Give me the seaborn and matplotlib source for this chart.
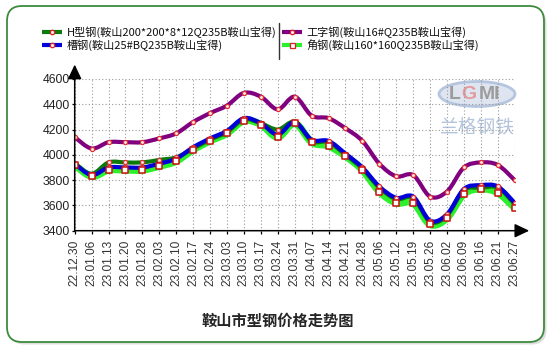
import numpy as np
import pandas as pd
import matplotlib
matplotlib.use("Agg")
import matplotlib.pyplot as plt
import seaborn as sns
from matplotlib.path import Path
from matplotlib.patches import PathPatch, FancyBboxPatch, Ellipse
from matplotlib.lines import Line2D

dates = ["22.12.30", "23.01.06", "23.01.13", "23.01.20", "23.01.28", "23.02.03",
         "23.02.10", "23.02.17", "23.02.24", "23.03.03", "23.03.10", "23.03.17",
         "23.03.24", "23.03.31", "23.04.07", "23.04.14", "23.04.21", "23.04.28",
         "23.05.06", "23.05.12", "23.05.19", "23.05.26", "23.06.02", "23.06.09",
         "23.06.16", "23.06.21", "23.06.27"]
h_beam = [3930, 3850, 3940, 3940, 3940, 3960, 3980, 4050, 4120, 4180, 4280, 4250, 4200,
          4260, 4110, 4100, 4000, 3890, 3740, 3650, 3660, 3470, 3520, 3720, 3740, 3740, 3610]
channel = [3930, 3840, 3900, 3900, 3900, 3930, 3970, 4060, 4130, 4190, 4290, 4250, 4160,
           4260, 4120, 4110, 4010, 3900, 3750, 3660, 3670, 3480, 3530, 3730, 3760, 3750, 3620]
i_beam = [4140, 4050, 4100, 4100, 4100, 4130, 4170, 4260, 4330, 4390, 4490, 4460, 4360,
          4460, 4310, 4290, 4210, 4110, 3930, 3830, 3840, 3670, 3710, 3900, 3940, 3920, 3800]
angle = [3920, 3830, 3880, 3880, 3880, 3910, 3950, 4040, 4110, 4170, 4270, 4240, 4140,
         4250, 4100, 4070, 3990, 3880, 3710, 3620, 3620, 3450, 3500, 3690, 3730, 3700, 3580]
series_names = ["H型钢(鞍山200*200*8*12Q235B鞍山宝得)", "槽钢(鞍山25#BQ235B鞍山宝得)",
                "工字钢(鞍山16#Q235B鞍山宝得)", "角钢(鞍山160*160Q235B鞍山宝得)"]
y_ticks = [3400, 3600, 3800, 4000, 4200, 4400, 4600]
title = "鞍山市型钢价格走势图"

sns.set_style("white")
plt.rcParams["font.family"] = ["Noto Sans CJK SC", "DejaVu Sans"]

W, H = 551, 350
fig = plt.figure(figsize=(W / 100, H / 100), dpi=100)
fig.patch.set_facecolor("white")

def fx(px):
    return px / W

def fy(py):
    return 1 - py / H

# frame with shadow
shadow = FancyBboxPatch((0.095, 0.055), 5.37, 3.36, boxstyle="round,pad=0,rounding_size=0.15",
                        transform=fig.dpi_scale_trans, fc="#c8c8c8", ec="none", alpha=0.6, zorder=-3)
fig.add_artist(shadow)
frame = FancyBboxPatch((0.07, 0.08), 5.37, 3.36, boxstyle="round,pad=0,rounding_size=0.15",
                       transform=fig.dpi_scale_trans, fc="white", ec="#3d8b3d", lw=1.3, zorder=-2)
fig.add_artist(frame)

# watermark logo (behind plot)
ell = Ellipse((fx(477), fy(94)), 76 / W, 25 / H, transform=fig.transFigure,
              fc="#dbe3f0", ec="#b0c1dc", lw=2, zorder=-1, alpha=0.9)
fig.add_artist(ell)
fig.text(fx(455), fy(95), "L", color="#9c9c9c", fontsize=14, fontweight="bold",
         ha="center", va="center", family="Liberation Sans", zorder=-1)
fig.text(fx(469), fy(95), "G", color="#e49a9a", fontsize=14, fontweight="bold",
         ha="center", va="center", family="Liberation Sans", zorder=-1)
fig.text(fx(490), fy(95), "MI", color="#9c9c9c", fontsize=14, fontweight="bold",
         ha="center", va="center", family="Liberation Sans", zorder=-1)
fig.text(fx(477), fy(127), "兰格钢铁", color="#b4c4dc", fontsize=13.5,
         ha="center", va="center", zorder=-1)

x0, x1, ytop, ybot = 74.7, 514.7, 79.0, 230.7
ax = fig.add_axes([fx(x0), fy(ybot), (x1 - x0) / W, (ybot - ytop) / H])
ax.set_facecolor("none")
xs = np.arange(len(dates))

def smooth_path(x, y):
    pts = np.column_stack([x, y]).astype(float)
    n = len(pts)
    verts = [pts[0]]
    codes = [Path.MOVETO]
    for i in range(n - 1):
        p0 = pts[i - 1] if i > 0 else pts[i]
        p1 = pts[i]
        p2 = pts[i + 1]
        p3 = pts[i + 2] if i + 2 < n else pts[i + 1]
        c1 = p1 + (p2 - p0) / 6.0
        c2 = p2 - (p3 - p1) / 6.0
        verts += [c1, c2, p2]
        codes += [Path.CURVE4] * 3
    return Path(verts, codes)

styles = [
    (angle, "#2bf02b", 5.2, 2),
    (h_beam, "#0b7a0b", 3.0, 3),
    (channel, "#0000d8", 3.0, 4),
    (i_beam, "#800080", 3.0, 5),
]
for vals, col, lw, z in styles:
    ax.add_patch(PathPatch(smooth_path(xs, vals), fill=False, ec=col, lw=lw,
                           capstyle="round", joinstyle="round", zorder=z))

for vals in (h_beam, channel, i_beam):
    sns.scatterplot(x=xs, y=vals, ax=ax, marker="o", s=9, color="#ffe8e8",
                    edgecolor="#e03030", linewidth=0.9, zorder=6, legend=False)
sns.scatterplot(x=xs, y=angle, ax=ax, marker="s", s=20, color="white",
                edgecolor="#cc1010", linewidth=1.1, zorder=7, legend=False)

ax.set_xlim(0, len(dates) - 1)
ax.set_ylim(3400, 4600)
ax.set_xticks(xs)
ax.set_xticklabels(dates, rotation=90)
ax.set_yticks(y_ticks)
ax.set_yticklabels([str(v) for v in y_ticks])
ax.grid(True, linestyle=(0, (1, 2)), color="#9a9a9a", lw=0.8)
ax.set_axisbelow(True)
for s in ax.spines.values():
    s.set_visible(False)
ax.tick_params(axis="both", bottom=True, left=True, length=2.5, width=0.9, color="black",
               direction="out")
ax.tick_params(axis="x", labelsize=8.6, pad=4.3, labelcolor="#333333",
               labelfontfamily="Liberation Sans")
ax.tick_params(axis="y", labelsize=8.8, pad=1.0, labelcolor="#222222",
               labelfontfamily="Liberation Sans")
ax.set_xlabel("")
ax.set_ylabel("")

arrow = dict(arrowstyle="-|>,head_length=0.8,head_width=0.38", color="black", lw=1.1,
             mutation_scale=11, shrinkA=0, shrinkB=0)
ax.annotate("", xy=(1.033, 0), xytext=(0, 0), xycoords="axes fraction",
            textcoords="axes fraction", arrowprops=arrow, annotation_clip=False, zorder=10)
ax.annotate("", xy=(0, 1.095), xytext=(0, 0), xycoords="axes fraction",
            textcoords="axes fraction", arrowprops=arrow, annotation_clip=False, zorder=10)

# legend
leg = [
    (42, 62, 67, 32, "#0b7a0b", series_names[0], "o"),
    (42, 62, 67, 45, "#0000d8", series_names[1], "o"),
    (282, 302, 306, 32, "#800080", series_names[2], "o"),
    (282, 302, 306, 45, "#2bf02b", series_names[3], "s"),
]
for a, b, tx, y, col, name, mk in leg:
    fig.add_artist(Line2D([fx(a), fx(b)], [fy(y), fy(y)], color=col, lw=3.0,
                          solid_capstyle="butt", transform=fig.transFigure))
    fig.add_artist(Line2D([fx((a + b) / 2)], [fy(y)], marker=mk, ms=3.2 if mk == "o" else 3.6,
                          mfc="#ffe8e8" if mk == "o" else "white", mec="#dd2020", mew=0.9,
                          transform=fig.transFigure))
    fig.text(fx(tx), fy(y), name, fontsize=8, ha="left", va="center", color="#111111")
fig.add_artist(Line2D([fx(279), fx(279)], [fy(23), fy(59)], color="#333333", lw=1.0,
                      transform=fig.transFigure))

fig.text(fx(278), fy(321), title, fontsize=11, fontweight="bold", ha="center", va="center")

fig.savefig("out.png", dpi=100, facecolor="white")
